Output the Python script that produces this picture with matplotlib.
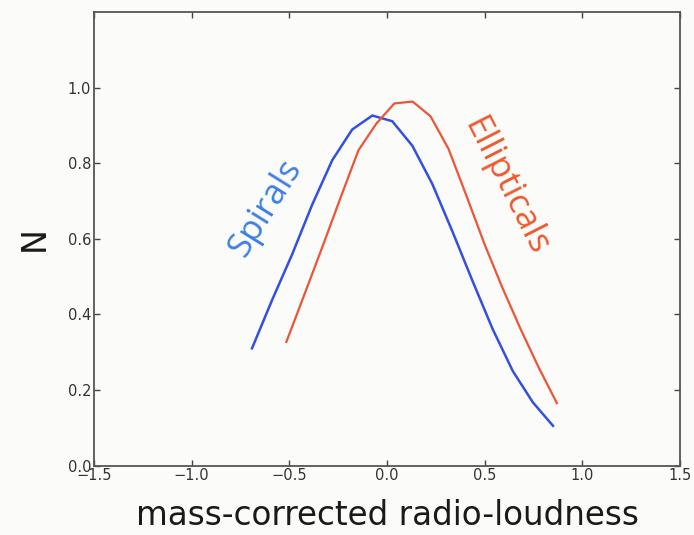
import matplotlib
matplotlib.use("Agg")
import matplotlib.pyplot as plt

# Data
spirals_x = [-0.691, -0.588, -0.486, -0.383, -0.280, -0.178, -0.075, 0.027,
             0.130, 0.233, 0.336, 0.439, 0.541, 0.644, 0.747, 0.850]
spirals_y = [0.310, 0.438, 0.558, 0.690, 0.808, 0.889, 0.926, 0.911,
             0.846, 0.744, 0.618, 0.487, 0.361, 0.250, 0.167, 0.105]

ellipticals_x = [-0.515, -0.423, -0.331, -0.238, -0.146, -0.054, 0.038, 0.131,
                 0.223, 0.315, 0.408, 0.500, 0.592, 0.685, 0.777, 0.870]
ellipticals_y = [0.327, 0.452, 0.578, 0.708, 0.834, 0.905, 0.958, 0.963,
                 0.924, 0.838, 0.712, 0.585, 0.469, 0.360, 0.259, 0.165]

x_ticks = [-1.5, -1.0, -0.5, 0.0, 0.5, 1.0, 1.5]
y_ticks = [0.0, 0.2, 0.4, 0.6, 0.8, 1.0]

bg = "#fbfbf9"
fig = plt.figure(figsize=(6.94, 5.35), dpi=100, facecolor=bg)
ax = fig.add_axes([0.1354, 0.1299, 0.8444, 0.8477], facecolor=bg)

ax.plot(spirals_x, spirals_y, color="#3450e0", lw=1.8)
ax.plot(ellipticals_x, ellipticals_y, color="#ec5535", lw=1.6)

ax.set_xlim(-1.5, 1.5)
ax.set_ylim(0.0, 1.2)
ax.set_xticks(x_ticks)
ax.set_yticks(y_ticks)
ax.set_xticklabels([f"{v:.1f}".replace("-", "\u2212") for v in x_ticks])
ax.set_yticklabels([f"{v:.1f}" for v in y_ticks])

ax.tick_params(direction="in", length=4, width=1.0, color="#444444",
               labelsize=10.5, labelcolor="#333333", top=True, right=True, pad=2)
for s in ax.spines.values():
    s.set_color("#555555")
    s.set_linewidth(1.3)

ax.set_xlabel("mass-corrected radio-loudness", fontsize=23.5, color="#1a1a1a",
              labelpad=11)
ax.set_ylabel("N", fontsize=24, color="#1a1a1a", labelpad=12)

ax.text(-0.62, 0.68, "Spirals", rotation=58, fontsize=25, color="#3d7fe6",
        family="Open Sans", ha="center", va="center", rotation_mode="anchor")
ax.text(0.61, 0.738, "Ellipticals", rotation=-63, fontsize=25, color="#ee5a2f",
        family="Open Sans", ha="center", va="center", rotation_mode="anchor")

fig.savefig("out.png", dpi=100, facecolor=bg)
